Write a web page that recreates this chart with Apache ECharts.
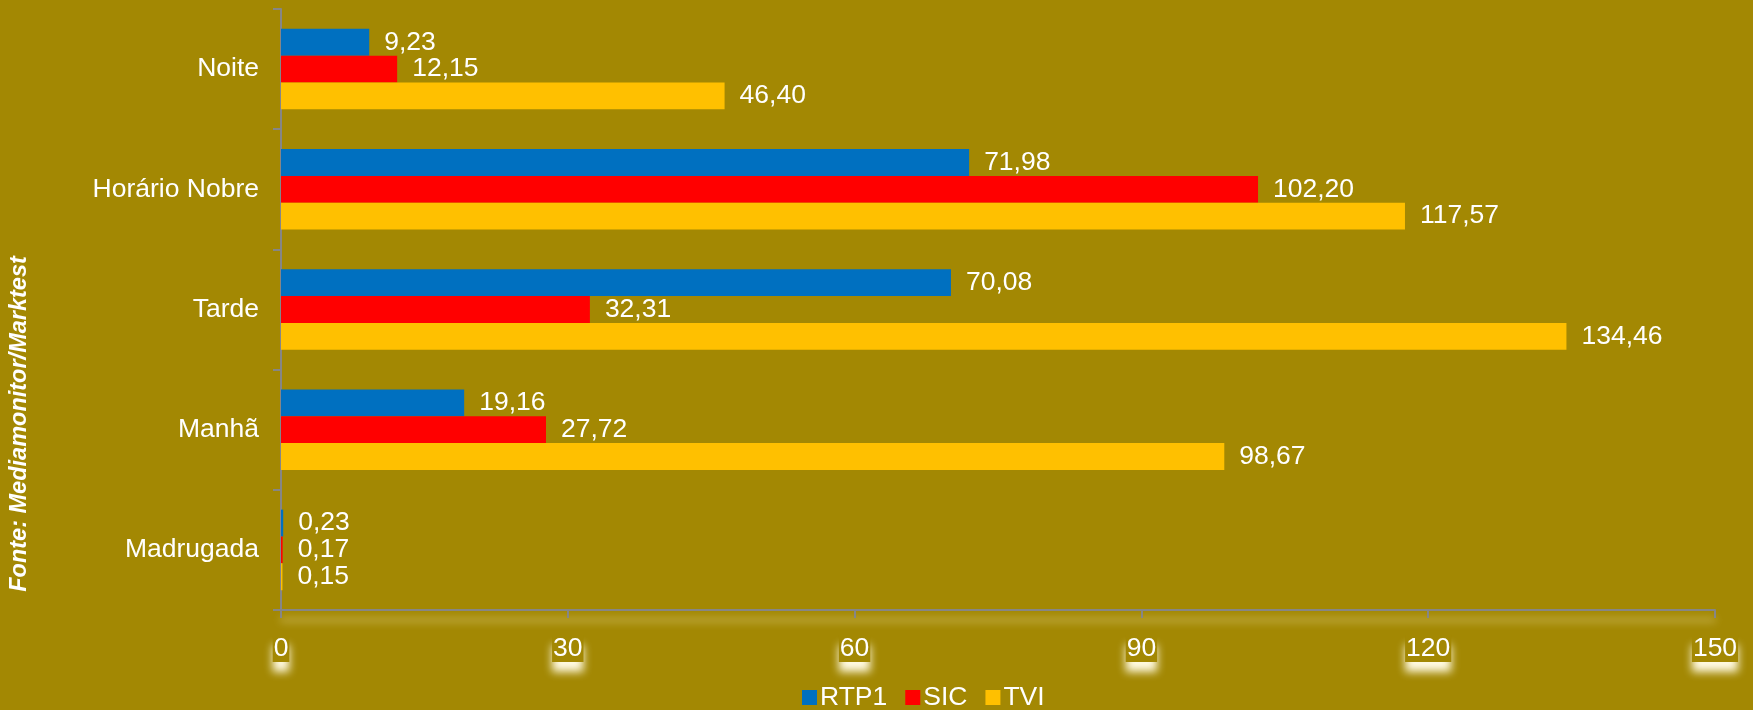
<!DOCTYPE html>
<html>
<head>
<meta charset="utf-8">
<script src="https://cdn.jsdelivr.net/npm/echarts@6/dist/echarts.min.js"></script>
<style>
html,body{margin:0;padding:0;background:#A38803;}
#c{width:1753px;height:710px;}
</style>
</head>
<body>
<div id="c"></div>
<script>
const categories = ['Madrugada', 'Manhã', 'Tarde', 'Horário Nobre', 'Noite'];
const rtp1 = [0.23, 19.16, 70.08, 71.98, 9.23];
const sic = [0.17, 27.72, 32.31, 102.20, 12.15];
const tvi = [0.15, 98.67, 134.46, 117.57, 46.40];
const xTicks = [0, 30, 60, 90, 120, 150];

const FONT = 'Liberation Sans, Arial, sans-serif';
const FS = 26.5;
const BG = '#A38803';
const fmt = v => v.toFixed(2).replace('.', ',');

const labelCfg = {
  show: true, position: 'right', distance: 15, color: '#fff',
  fontSize: FS, fontFamily: FONT,
  formatter: p => fmt(p.value)
};

const chart = echarts.init(document.getElementById('c'));
chart.setOption({
  backgroundColor: BG,
  animation: false,
  textStyle: { fontFamily: FONT },
  graphic: [{
    type: 'text', rotation: Math.PI / 2,
    x: 20, y: 424,
    style: {
      text: 'Fonte: Mediamonitor/Marktest', fill: '#fff',
      font: 'italic bold 23.5px ' + FONT, align: 'center', verticalAlign: 'middle'
    }
  }],
  legend: {
    data: ['RTP1', 'SIC', 'TVI'],
    left: 797, top: 679,
    itemWidth: 15, itemHeight: 15, itemGap: 18,
    icon: 'rect',
    textStyle: { color: '#fff', fontSize: FS, fontFamily: FONT, padding: [0, 0, 0, -2] }
  },
  grid: { left: 281, right: 38, top: 9, bottom: 100, containLabel: false },
  xAxis: {
    type: 'value', min: xTicks[0], max: xTicks[xTicks.length - 1], interval: 30,
    splitLine: { show: false },
    axisLine: { show: true, lineStyle: { color: '#868686', width: 2, shadowColor: 'rgba(255,245,200,0.8)', shadowBlur: 8, shadowOffsetY: 10 } },
    axisTick: { show: true, length: 8, lineStyle: { color: '#868686', width: 2 } },
    axisLabel: {
      color: '#fff', fontSize: FS, fontFamily: FONT, margin: 25,
      backgroundColor: BG, padding: [0, 1, 0, 1],
      shadowColor: 'rgba(255,250,225,1)', shadowBlur: 9, shadowOffsetY: 10
    }
  },
  yAxis: {
    type: 'category', data: categories,
    axisLine: { show: true, lineStyle: { color: '#868686', width: 2 } },
    axisTick: { show: true, length: 8, lineStyle: { color: '#868686', width: 2 } },
    axisLabel: { color: '#fff', fontSize: FS, fontFamily: FONT, margin: 22 }
  },
  series: [
    { name: 'RTP1', type: 'bar', data: rtp1, itemStyle: { color: '#0070C0' }, barGap: '0%', barCategoryGap: '33%', label: labelCfg },
    { name: 'SIC', type: 'bar', data: sic, itemStyle: { color: '#FF0000' }, barGap: '0%', barCategoryGap: '33%', label: labelCfg },
    { name: 'TVI', type: 'bar', data: tvi, itemStyle: { color: '#FFC000' }, barGap: '0%', barCategoryGap: '33%', label: labelCfg }
  ]
});
</script>
</body>
</html>
